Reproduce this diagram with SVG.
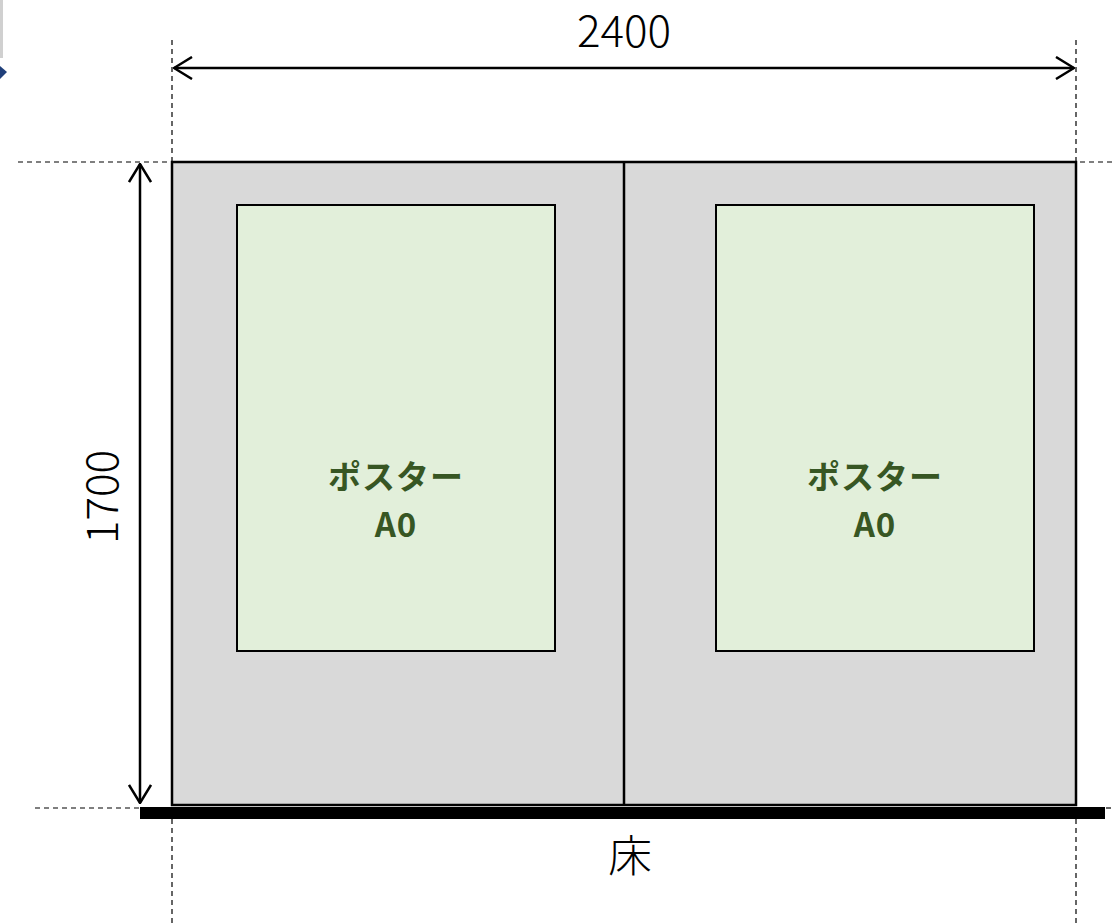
<svg xmlns="http://www.w3.org/2000/svg" width="1112" height="923" viewBox="0 0 1112 923">
<style>
.dash{stroke:#000;stroke-width:1.2;stroke-dasharray:5 4;fill:none}
.dim{stroke:#000;stroke-width:2.5;fill:none}
.poster{fill:#e2efda;stroke:#000;stroke-width:2}
.ptxt{font-family:"Noto Sans CJK JP","Noto Sans",sans-serif;font-weight:700;font-size:33px;fill:#375623;text-anchor:middle;letter-spacing:1px}
.dtxt{font-family:"Noto Sans CJK JP","Noto Sans",sans-serif;font-weight:300;font-size:44px;fill:#000;text-anchor:middle}
</style>
<defs>
<marker id="oa" viewBox="0 0 20 24" refX="19" refY="12" markerWidth="20" markerHeight="24" markerUnits="userSpaceOnUse" orient="auto-start-reverse">
<path d="M1,1 L19,12 L1,23" fill="none" stroke="#000" stroke-width="2.5"/>
</marker>
</defs>
<rect width="1112" height="923" fill="#fff"/>
<g id="corner-fragment">
<rect x="0" y="0" width="3" height="58" fill="#d0d0d0"/>
<path d="M0,66 L7,72 L0,79 Z" fill="#1f3f7a"/>
</g>
<g id="guides">
<line class="dash" x1="18" y1="162" x2="1112" y2="162"/>
<line class="dash" x1="35" y1="808" x2="140" y2="808"/>
<line class="dash" x1="1106" y1="808" x2="1112" y2="808"/>
<line class="dash" x1="172" y1="40" x2="172" y2="162"/>
<line class="dash" x1="1076" y1="40" x2="1076" y2="162"/>
<line class="dash" x1="172" y1="819" x2="172" y2="923"/>
<line class="dash" x1="1076" y1="819" x2="1076" y2="923"/>
</g>
<g id="wall">
<rect x="172" y="162" width="904" height="643" fill="#d9d9d9" stroke="#000" stroke-width="2.5"/>
<line x1="624" y1="162" x2="624" y2="805" stroke="#000" stroke-width="2.5"/>
</g>
<g id="poster-left">
<rect class="poster" x="237" y="205" width="318" height="446"/>
<text class="ptxt" x="396" y="489">ポスター</text>
<text class="ptxt" x="396" y="537">A0</text>
</g>
<g id="poster-right">
<rect class="poster" x="716" y="205" width="318" height="446"/>
<text class="ptxt" x="875" y="489">ポスター</text>
<text class="ptxt" x="875" y="537">A0</text>
</g>
<g id="floor">
<rect x="140" y="807" width="965" height="12" fill="#000"/>
<text class="dtxt" x="630" y="872">床</text>
</g>
<g id="connectors">
<line class="dim" x1="174" y1="68" x2="1074" y2="68" marker-start="url(#oa)" marker-end="url(#oa)"/>
<line class="dim" x1="140" y1="164" x2="140" y2="803" marker-start="url(#oa)" marker-end="url(#oa)"/>
</g>
<g id="labels">
<text class="dtxt" x="624" y="47">2400</text>
<text class="dtxt" transform="translate(118,497) rotate(-90)" x="0" y="0">1700</text>
</g>
</svg>
